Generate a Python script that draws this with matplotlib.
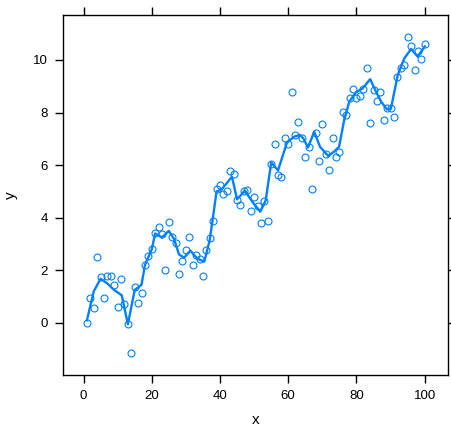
import numpy as np
import matplotlib
matplotlib.use("Agg")
import matplotlib.pyplot as plt

plt.rcParams['font.family'] = ['Liberation Sans', 'DejaVu Sans']

# scatter values, x = 1..100
x = np.arange(1, 101)
y = [0.00, 0.96, 0.57, 2.50, 1.75, 0.95, 1.79, 1.79, 1.46, 0.62,
     1.67, 0.72, -0.05, -1.13, 1.36, 0.77, 1.13, 2.19, 2.55, 2.80,
     3.43, 3.64, 3.37, 2.02, 3.83, 3.27, 3.02, 1.87, 2.34, 2.76,
     3.27, 2.20, 2.59, 2.42, 1.77, 2.79, 3.21, 3.88, 5.10, 5.25,
     4.89, 5.03, 5.79, 5.67, 4.68, 4.49, 5.02, 5.07, 4.25, 4.80,
     4.45, 3.79, 4.63, 3.88, 6.03, 6.82, 5.61, 5.54, 7.03, 6.81,
     8.78, 7.16, 7.63, 7.03, 6.31, 6.70, 5.11, 7.21, 6.17, 7.55,
     6.43, 5.81, 7.02, 6.30, 6.50, 8.01, 7.91, 8.56, 8.89, 8.56,
     8.64, 8.91, 9.70, 7.62, 8.85, 8.45, 8.78, 7.73, 8.19, 8.19,
     7.84, 9.37, 9.71, 9.81, 10.86, 10.54, 9.61, 10.35, 10.03, 10.62]

# smooth line
line_x = [1, 3, 5, 7, 9, 11.2, 13, 15, 17, 18, 20, 21, 23, 25, 26.5, 28,
          29.5, 31.3, 33.4, 35.4, 37, 39, 40.5, 43.5, 45, 47.3, 49.5, 51.8,
          53.4, 55, 57, 59.6, 61.7, 63.4, 64.4, 65.8, 67.6, 69.3, 71.7,
          73.4, 74.9, 76.4, 77.9, 79.8, 81.8, 84, 85.7, 87.2, 88.9, 90.1,
          92.1, 94, 96, 97.9, 100]
line_y = [0.10, 1.20, 1.68, 1.50, 1.25, 1.05, -0.05, 1.25, 1.45, 2.20, 2.80,
          3.40, 3.25, 3.50, 3.20, 2.60, 2.48, 2.75, 2.44, 2.33, 3.16, 5.00,
          5.08, 5.56, 4.70, 5.03, 4.60, 4.23, 4.66, 6.10, 5.80, 6.85, 7.08,
          7.15, 7.02, 6.67, 7.27, 6.70, 6.35, 6.51, 6.70, 7.72, 8.42, 8.76,
          8.92, 9.27, 8.80, 8.42, 8.12, 8.16, 9.43, 10.06, 10.42, 10.13, 10.51]

col = '#0080ff'

fig = plt.figure(figsize=(4.52, 4.29), dpi=100)
ax = fig.add_axes([0.140, 0.126, 0.852, 0.839])

ax.plot(x, y, 'o', mfc='none', mec=col, ms=5, mew=0.8)
ax.plot(line_x, line_y, '-', color=col, lw=1.7)

ax.set_xlim(-5.93, 106.93)
ax.set_ylim(-1.98, 11.71)
ax.set_xticks([0, 20, 40, 60, 80, 100])
ax.set_yticks([0, 2, 4, 6, 8, 10])

for s in ax.spines.values():
    s.set_linewidth(1)
    s.set_color('black')

ax.tick_params(direction='out', length=6, width=1, color='black',
               labelsize=9.5, pad=5, top=True, right=True,
               labeltop=False, labelright=False)

ax.set_xlabel('x', fontsize=11, labelpad=8)
ax.set_ylabel('y', fontsize=11, labelpad=11)

fig.savefig('out.png', dpi=100)
